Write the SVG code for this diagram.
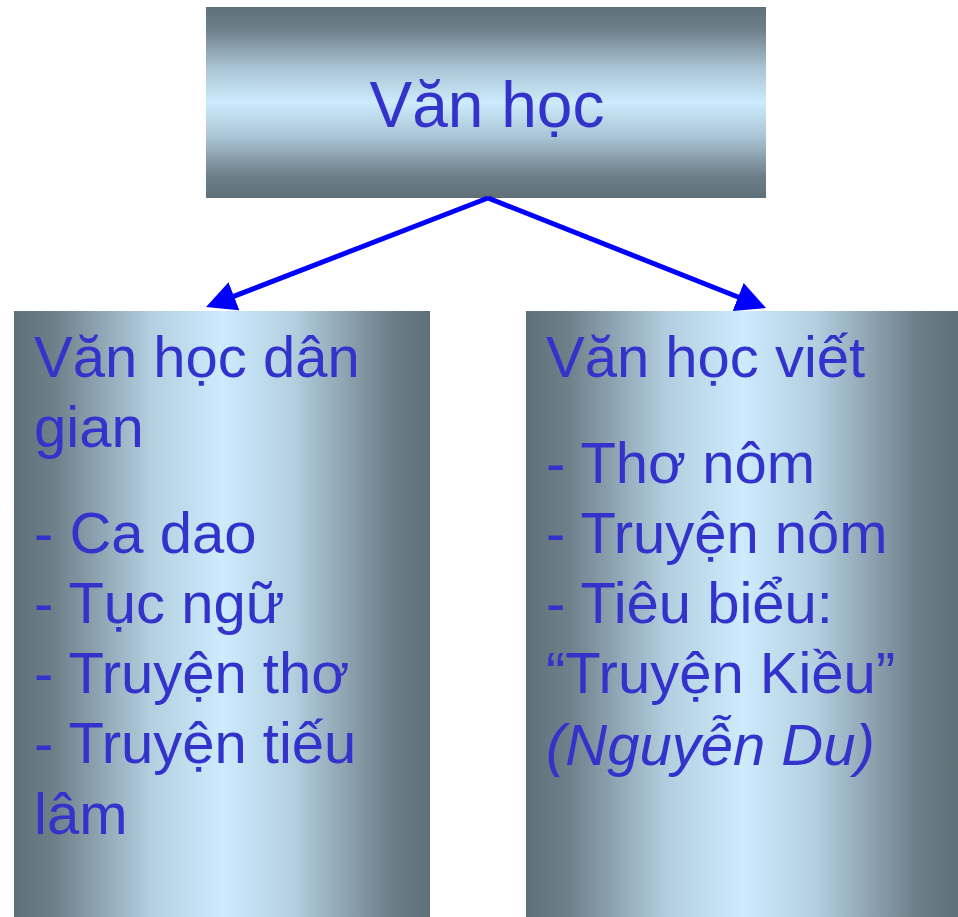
<svg xmlns="http://www.w3.org/2000/svg" width="958" height="917" viewBox="0 0 958 917">
<style>
  text { font-family: "Liberation Sans", Arial, sans-serif; fill: #3333cc; }
  .big { font-size: 64px; }
  .t { font-size: 58px; }
  .conn { stroke: #0000ff; stroke-width: 5; fill: none; }
</style>
<defs>
  <linearGradient id="gv" x1="0" y1="0" x2="0" y2="1">
    <stop offset="0" stop-color="#607079"/>
    <stop offset="0.12" stop-color="#6f808b"/>
    <stop offset="0.32" stop-color="#a9c4d4"/>
    <stop offset="0.5" stop-color="#cdebfd"/>
    <stop offset="0.68" stop-color="#a9c4d4"/>
    <stop offset="0.88" stop-color="#6f808b"/>
    <stop offset="1" stop-color="#607079"/>
  </linearGradient>
  <linearGradient id="gh" x1="0" y1="0" x2="1" y2="0">
    <stop offset="0" stop-color="#607079"/>
    <stop offset="0.1" stop-color="#6f808b"/>
    <stop offset="0.33" stop-color="#b3cfe0"/>
    <stop offset="0.5" stop-color="#cdebfd"/>
    <stop offset="0.67" stop-color="#b3cfe0"/>
    <stop offset="0.9" stop-color="#6f808b"/>
    <stop offset="1" stop-color="#607079"/>
  </linearGradient>
  <marker id="ah" viewBox="0 0 10 10" refX="2" refY="5" markerWidth="6" markerHeight="6" orient="auto">
    <path d="M0,0 L10,5 L0,10 z" fill="#0000ff"/>
  </marker>
</defs>
<rect width="958" height="917" fill="#ffffff"/>

<g id="node-vanhoc">
  <rect x="206" y="7" width="560" height="191" fill="url(#gv)"/>
  <text class="big" x="487" y="127" text-anchor="middle">Văn học</text>
</g>

<g id="node-dangian">
  <rect x="14" y="311" width="416" height="606" fill="url(#gh)"/>
  <text class="t" x="34" y="377">Văn học dân</text>
  <text class="t" x="34" y="447">gian</text>
  <text class="t" x="34" y="553">- Ca dao</text>
  <text class="t" x="34" y="623">- Tục ngữ</text>
  <text class="t" x="34" y="693">- Truyện thơ</text>
  <text class="t" x="34" y="763">- Truyện tiếu</text>
  <text class="t" x="34" y="834">lâm</text>
</g>

<g id="node-viet">
  <rect x="526" y="311" width="432" height="606" fill="url(#gh)"/>
  <text class="t" x="546" y="377">Văn học viết</text>
  <text class="t" x="546" y="483">- Thơ nôm</text>
  <text class="t" x="546" y="553">- Truyện nôm</text>
  <text class="t" x="546" y="623">- Tiêu biểu:</text>
  <text class="t" x="546" y="693">“Truyện Kiều”</text>
  <text class="t" x="546" y="765" font-style="italic">(Nguyễn Du)</text>
</g>

<g id="connectors">
  <line class="conn" x1="488" y1="198" x2="228.4" y2="298.4" marker-end="url(#ah)"/>
  <line class="conn" x1="488" y1="198" x2="743.7" y2="299.2" marker-end="url(#ah)"/>
</g>
</svg>
